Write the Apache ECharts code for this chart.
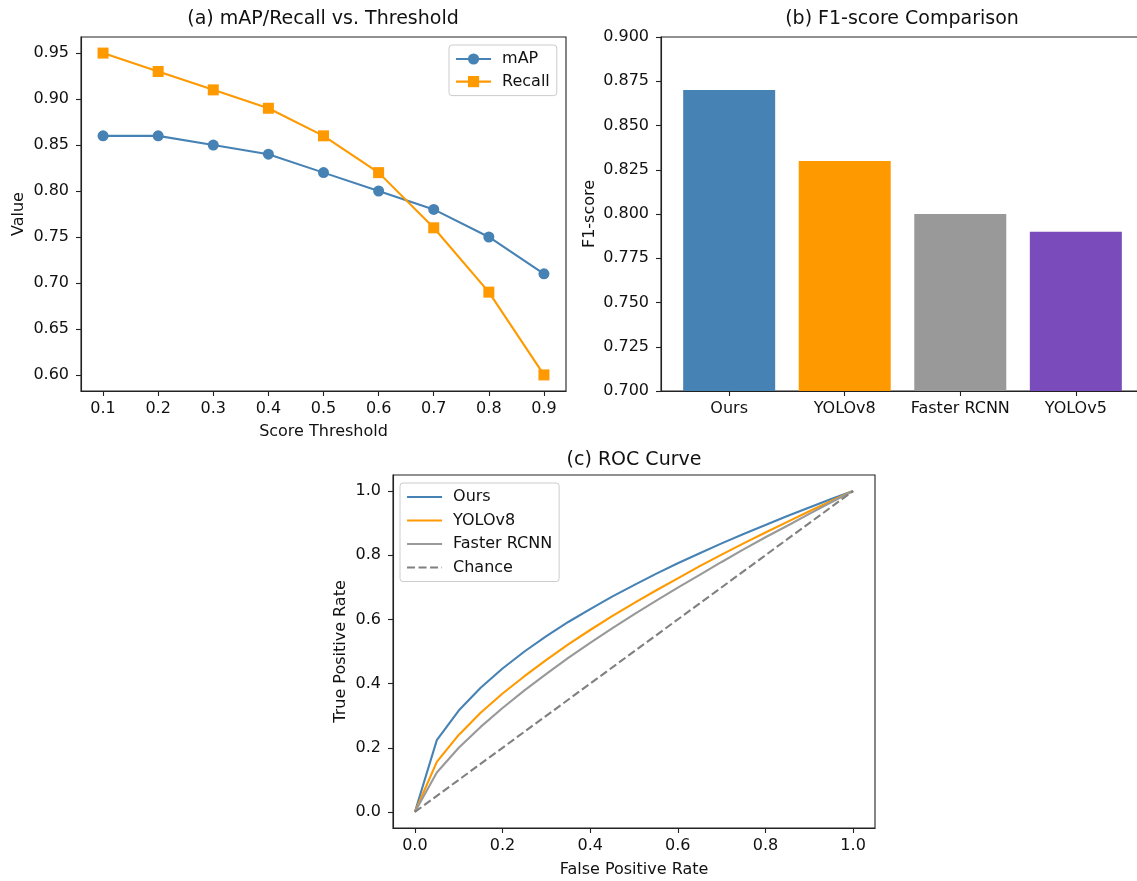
<!DOCTYPE html>
<html>
<head>
<meta charset="utf-8">
<script src="https://cdn.jsdelivr.net/npm/echarts@6/dist/echarts.min.js"></script>
<style>
	html, body { margin: 0; padding: 0; background: #fff; }
	#main { width: 1137px; height: 881px; }
</style>
</head>
<body>
<div id="main"></div>
<script>
// (a) threshold curves
var thresholds = [0.1, 0.2, 0.3, 0.4, 0.5, 0.6, 0.7, 0.8, 0.9]
var mapValues = [0.86, 0.86, 0.85, 0.84, 0.82, 0.80, 0.78, 0.75, 0.71]
var recallValues = [0.95, 0.93, 0.91, 0.89, 0.86, 0.82, 0.76, 0.69, 0.60]

// (b) F1 comparison
var models = ['Ours', 'YOLOv8', 'Faster RCNN', 'YOLOv5']
var f1Scores = [0.87, 0.83, 0.80, 0.79]

// (c) ROC curves
var fpr = [0, 0.05, 0.1, 0.15, 0.2, 0.25, 0.3, 0.35, 0.4, 0.45, 0.5, 0.55, 0.6, 0.65, 0.7, 0.75, 0.8, 0.85, 0.9, 0.95, 1]
var tprOurs = [0, 0.224, 0.316, 0.387, 0.447, 0.5, 0.548, 0.592, 0.632, 0.671, 0.707, 0.742, 0.775, 0.806, 0.837, 0.866, 0.894, 0.922, 0.949, 0.975, 1]
var tprYolov8 = [0, 0.156, 0.240, 0.309, 0.369, 0.423, 0.474, 0.522, 0.567, 0.610, 0.651, 0.690, 0.728, 0.766, 0.802, 0.837, 0.871, 0.904, 0.937, 0.969, 1]
var tprFaster = [0, 0.123, 0.200, 0.265, 0.324, 0.379, 0.430, 0.480, 0.527, 0.572, 0.616, 0.658, 0.699, 0.739, 0.779, 0.818, 0.856, 0.892, 0.929, 0.965, 1]
var chanceLine = [0, 1]

// tick labels
var ticksA = [0.60, 0.65, 0.70, 0.75, 0.80, 0.85, 0.90, 0.95]
var ticksB = [0.700, 0.725, 0.750, 0.775, 0.800, 0.825, 0.850, 0.875, 0.900]
var ticksC = [0, 0.2, 0.4, 0.6, 0.8, 1.0]

var BLUE = '#4682b4', ORANGE = '#ff9900', GRAY = '#999999', PURPLE = '#794bbb'
var FONT = 'DejaVu Sans'
var barColors = [BLUE, ORANGE, GRAY, PURPLE]

function zip(xs, ys) {
	return xs.map(function (x, i) { return [x, ys[i]] })
}

function valueAxis(gridIndex, min, max, ticks, digits, name, nameGap, isY) {
	return {
		type: 'value',
		gridIndex: gridIndex,
		min: min,
		max: max,
		name: name,
		nameLocation: 'middle',
		nameGap: nameGap,
		nameTextStyle: { fontFamily: FONT, fontSize: 16, color: '#111' },
		axisLine: { show: true, onZero: false, lineStyle: { color: '#222', width: 1.1 } },
		axisTick: { show: true, length: 5, customValues: ticks, lineStyle: { color: '#222', width: 1.1 } },
		axisLabel: {
			customValues: ticks,
			fontFamily: FONT,
			fontSize: 16,
			color: '#111',
			margin: isY ? 12 : 10,
			formatter: function (v) { return Number(v).toFixed(digits) }
		},
		splitLine: { show: false }
	}
}

function legendBox(left, top, names, gap, hideSymbol) {
	var lg = {
		orient: 'vertical',
		left: left,
		top: top,
		data: names,
		itemWidth: 35,
		itemHeight: 14,
		itemGap: gap,
		padding: [6, 7, 6, 6],
		backgroundColor: 'rgba(255,255,255,0.8)',
		borderColor: '#cccccc',
		borderWidth: 1,
		borderRadius: 3,
		lineStyle: { width: 2.1 },
		textStyle: { fontFamily: FONT, fontSize: 16, lineHeight: 16, color: '#111', padding: [0, 0, 0, 6] }
	}
	if (hideSymbol) lg.itemStyle = { opacity: 0 }
	return lg
}

function titleText(text, x, y) {
	return {
		type: 'text',
		x: x,
		y: y,
		style: {
			text: text,
			fontFamily: FONT,
			fontSize: 19,
			fill: '#111',
			align: 'center',
			verticalAlign: 'middle'
		}
	}
}

var xA = valueAxis(0, 0.06, 0.94, thresholds, 1, 'Score Threshold', 33, false)
var yA = valueAxis(0, 0.5825, 0.9675, ticksA, 2, 'Value', 54, true)
var xB = valueAxis(1, -0.59, 3.59, [0, 1, 2, 3], 0, '', 0, false)
xB.axisLabel.formatter = function (v) { return models[Math.round(v)] }
var yB = valueAxis(1, 0.7, 0.9, ticksB, 3, 'F1-score', 63, true)
var xC = valueAxis(2, -0.05, 1.05, ticksC, 1, 'False Positive Rate', 34, false)
var yC = valueAxis(2, -0.05, 1.05, ticksC, 1, 'True Positive Rate', 44, true)

var gridBorder = { show: true, borderColor: '#222', borderWidth: 1.1, backgroundColor: 'transparent', outerBoundsMode: 'none' }

var option = {
	animation: false,
	backgroundColor: '#fff',
	grid: [
		Object.assign({ left: 81, top: 37, width: 485, height: 354 }, gridBorder),
		Object.assign({ left: 661, top: 37, width: 483, height: 354 }, gridBorder),
		Object.assign({ left: 393, top: 475, width: 482, height: 353 }, gridBorder)
	],
	xAxis: [xA, xB, xC],
	yAxis: [yA, yB, yC],
	legend: [
		legendBox(449, 45, ['mAP', 'Recall'], 6.6, false),
		legendBox(400, 483, ['Ours', 'YOLOv8', 'Faster RCNN', 'Chance'], 7.5, true)
	],
	graphic: [
		titleText('(a) mAP/Recall vs. Threshold', 323, 19),
		titleText('(b) F1-score Comparison', 902, 19),
		titleText('(c) ROC Curve', 634, 460)
	],
	series: [{
		name: 'mAP',
		type: 'line',
		xAxisIndex: 0,
		yAxisIndex: 0,
		data: zip(thresholds, mapValues),
		symbol: 'circle',
		symbolSize: 11,
		itemStyle: { color: BLUE },
		lineStyle: { color: BLUE, width: 2.1 }
	}, {
		name: 'Recall',
		type: 'line',
		xAxisIndex: 0,
		yAxisIndex: 0,
		data: zip(thresholds, recallValues),
		symbol: 'rect',
		symbolSize: 11,
		itemStyle: { color: ORANGE },
		lineStyle: { color: ORANGE, width: 2.1 }
	}, {
		name: 'F1',
		type: 'bar',
		xAxisIndex: 1,
		yAxisIndex: 1,
		barWidth: 92,
		data: f1Scores.map(function (v, i) {
			return { value: [i, v], itemStyle: { color: barColors[i] } }
		})
	}, {
		name: 'Ours',
		type: 'line',
		xAxisIndex: 2,
		yAxisIndex: 2,
		data: zip(fpr, tprOurs),
		symbol: 'none',
		itemStyle: { color: BLUE },
		lineStyle: { color: BLUE, width: 2.1 }
	}, {
		name: 'YOLOv8',
		type: 'line',
		xAxisIndex: 2,
		yAxisIndex: 2,
		data: zip(fpr, tprYolov8),
		symbol: 'none',
		itemStyle: { color: ORANGE },
		lineStyle: { color: ORANGE, width: 2.1 }
	}, {
		name: 'Faster RCNN',
		type: 'line',
		xAxisIndex: 2,
		yAxisIndex: 2,
		data: zip(fpr, tprFaster),
		symbol: 'none',
		itemStyle: { color: GRAY },
		lineStyle: { color: GRAY, width: 2.1 }
	}, {
		name: 'Chance',
		type: 'line',
		xAxisIndex: 2,
		yAxisIndex: 2,
		data: zip(chanceLine, chanceLine),
		symbol: 'none',
		itemStyle: { color: '#808080' },
		lineStyle: { color: '#808080', width: 2.1, type: [8, 3.5] }
	}]
}

var myChart = echarts.init(document.getElementById('main'), null, { renderer: 'canvas' })
myChart.setOption(option)
</script>
</body>
</html>
